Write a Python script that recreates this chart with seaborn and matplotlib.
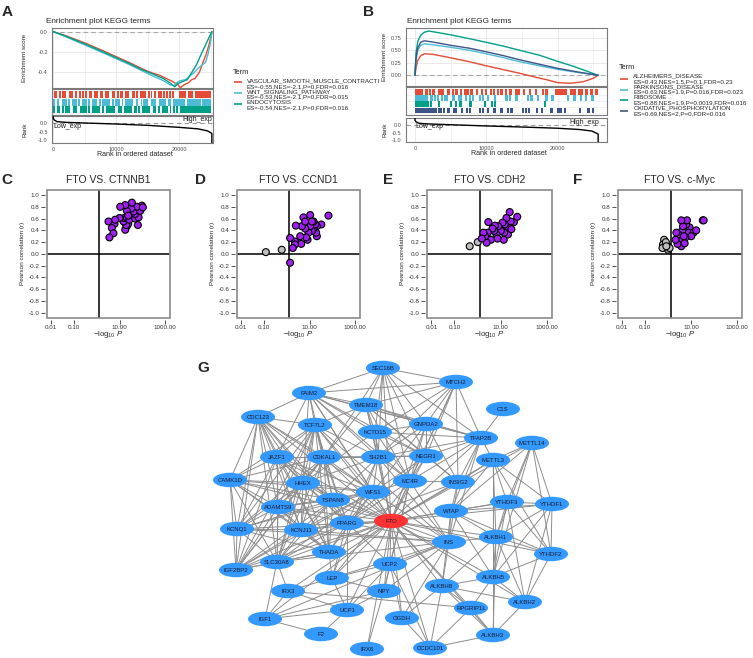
import numpy as np
import pandas as pd
import matplotlib
matplotlib.use('Agg')
import matplotlib.pyplot as plt
import seaborn as sns
from matplotlib.patches import Ellipse, Rectangle
from matplotlib.collections import LineCollection

sns.set_theme(style='white')
plt.rcParams['font.family'] = ['Liberation Sans', 'DejaVu Sans']
plt.rcParams['axes.unicode_minus'] = False
plt.rcParams['mathtext.fontset'] = 'custom'
plt.rcParams['mathtext.rm'] = 'Liberation Sans'
plt.rcParams['mathtext.it'] = 'Liberation Sans:italic'

# ------------------------------------------------------------------ data
NPG = ['#E64B35', '#4DBBD5', '#00A087', '#3C5488']

# Panel A (GSEA, negatively enriched)
A_TERMS = ['VASCULAR_SMOOTH_MUSCLE_CONTRACTION', 'WNT_SIGNALING_PATHWAY', 'ENDOCYTOSIS']
A_STATS = ['ES=-0.55,NES=-2.1,P=0,FDR=0.016', 'ES=-0.53,NES=-2.1,P=0,FDR=0.015',
           'ES=-0.54,NES=-2.1,P=0,FDR=0.016']
A_RED_X = [0, 2000, 5000, 8000, 10000, 12000, 14000, 15500, 17000, 18000, 19000, 19800, 20200,
           20800, 21500, 22000, 22500, 23200, 23800, 24300, 24700, 25000, 25200]
A_RED_Y = [0, -0.04, -0.11, -0.19, -0.245, -0.30, -0.36, -0.40, -0.43, -0.46, -0.49, -0.52, -0.55,
           -0.52, -0.50, -0.47, -0.46, -0.40, -0.30, -0.22, -0.14, -0.06, 0.0]
A_BLUE_X = [0, 2000, 5000, 8000, 10000, 12000, 14000, 16000, 17500, 18500, 19200, 19600, 20200,
            21000, 21800, 22400, 23000, 23600, 24200, 24600, 25000, 25200]
A_BLUE_Y = [0, -0.05, -0.13, -0.21, -0.265, -0.32, -0.38, -0.44, -0.48, -0.52, -0.53, -0.50, -0.48,
            -0.47, -0.43, -0.40, -0.36, -0.33, -0.30, -0.22, -0.10, 0.0]
A_GREEN_X = [0, 2000, 5000, 8000, 10000, 12000, 14000, 16000, 17500, 18500, 19300, 19800, 20500,
             21300, 22000, 22800, 23500, 24200, 24800, 25200]
A_GREEN_Y = [0, -0.045, -0.12, -0.20, -0.255, -0.31, -0.37, -0.42, -0.46, -0.50, -0.54, -0.51, -0.49,
             -0.47, -0.40, -0.32, -0.22, -0.13, -0.05, 0.0]
A_HITS_RED = [(160, 530), (900, 1100), (1400, 1600), (1750, 1950), (2550, 2750), (2900, 3170),
              (3500, 3700), (4130, 4330), (4550, 4750), (5090, 5290), (5710, 6080), (6510, 6710),
              (6880, 7080), (7400, 7940), (8260, 8460), (8630, 8830), (9260, 9790), (10220, 10420),
              (10580, 11110), (11430, 11630), (11800, 12000), (12430, 12960), (13230, 13430),
              (13760, 14810), (15140, 15340), (15510, 15710), (16040, 16240), (16670, 17200),
              (17470, 17670), (18000, 18200), (18420, 18620), (18950, 19150), (19950, 21160),
              (21430, 22220), (22490, 25130)]
A_HITS_BLUE = [(0, 265), (700, 900), (1320, 2120), (2440, 2640), (2910, 3700), (4030, 4230),
               (4500, 5290), (5610, 5810), (6080, 6880), (7310, 7510), (7670, 8990), (9320, 9520),
               (9790, 10580), (10900, 11100), (11380, 12700), (13120, 13490), (13920, 14120),
               (14290, 15080), (15450, 16400), (16830, 17990), (18250, 18780), (19050, 21000),
               (21200, 23500), (23700, 25130)]
A_HITS_GREEN = [(0, 265), (530, 1060), (1380, 1580), (1850, 2650), (3170, 3700), (4230, 5290),
                (5610, 5810), (6080, 7410), (7840, 8040), (8360, 9790), (10320, 10850), (11220, 12430),
                (12800, 13230), (13550, 13750), (14020, 15340), (15770, 16400), (16730, 16930),
                (17200, 18250), (18520, 18720), (19050, 19310), (19580, 19780), (20110, 25130)]
A_RANK_X = [0, 0, 150, 600, 2000, 5000, 10000, 15000, 20000, 23000, 24500, 25100, 25200, 25200]
A_RANK_Y = [0.44, 0.30, 0.20, 0.10, 0.06, 0.02, -0.04, -0.12, -0.24, -0.33, -0.45, -0.58, -0.62, -1.2]

# Panel B (GSEA, positively enriched)
B_TERMS = ['ALZHEIMERS_DISEASE', 'PARKINSONS_DISEASE', 'RIBOSOME', 'OXIDATIVE_PHOSPHORYLATION']
B_STATS = ['ES=0.43,NES=1.5,P=0.1,FDR=0.23', 'ES=0.63,NES=1.9,P=0.016,FDR=0.023',
           'ES=0.88,NES=1.9,P=0.0019,FDR=0.016', 'ES=0.69,NES=2,P=0,FDR=0.016']
B_RED_X = [0, 150, 400, 800, 1300, 2500, 5000, 7700, 10000, 12500, 14700, 17000, 18500, 20000,
           21700, 23600, 25000, 25700]
B_RED_Y = [0, 0.15, 0.30, 0.39, 0.43, 0.42, 0.35, 0.27, 0.19, 0.11, 0.04, -0.04, -0.09, -0.145,
           -0.16, -0.13, -0.06, 0.0]
B_BLUE_X = [0, 150, 400, 800, 1300, 2500, 5000, 7700, 10000, 12500, 14700, 17500, 20000, 22700, 25700]
B_BLUE_Y = [0, 0.30, 0.50, 0.60, 0.63, 0.61, 0.56, 0.50, 0.43, 0.35, 0.27, 0.19, 0.12, 0.06, 0.0]
B_GREEN_X = [0, 150, 400, 800, 1300, 1900, 3000, 5000, 7700, 10000, 12500, 14700, 17500, 20000,
             22000, 23600, 25700]
B_GREEN_Y = [0, 0.45, 0.68, 0.80, 0.86, 0.885, 0.86, 0.81, 0.73, 0.66, 0.58, 0.50, 0.40, 0.28,
             0.19, 0.11, 0.0]
B_NAVY_X = [0, 150, 400, 800, 1300, 2500, 5000, 7700, 10000, 12500, 14700, 17500, 20000, 22700, 25700]
B_NAVY_Y = [0, 0.35, 0.55, 0.66, 0.69, 0.665, 0.60, 0.54, 0.47, 0.39, 0.31, 0.22, 0.14, 0.07, 0.0]
B_HITS_RED = [(0, 1170), (1400, 1870), (2000, 2200), (2340, 2800), (3270, 3740), (3870, 4070),
              (4440, 4910), (5180, 5380), (5610, 6070), (6310, 6540), (6910, 7110), (7280, 7480),
              (7710, 8180), (8550, 8880), (9250, 9450), (9810, 10050), (10510, 10710), (10980, 11210),
              (11580, 11780), (12050, 12250), (12620, 12850), (13220, 13550), (14150, 14350),
              (14530, 14730), (15190, 15420), (16020, 16220), (16820, 17060), (17890, 18090),
              (18360, 18560), (19630, 21260), (21730, 22660), (22900, 23600), (23970, 24170),
              (24530, 24910), (25230, 25610)]
B_HITS_BLUE = [(0, 1870), (2100, 2570), (2700, 2900), (3170, 3370), (3640, 3840), (4110, 4310),
               (4430, 4630), (5140, 5610), (6070, 6540), (7010, 7240), (7610, 7810), (8080, 8280),
               (9010, 9210), (9480, 9680), (10180, 10380), (11110, 11310), (12750, 12950),
               (13220, 13420), (14150, 14350), (15790, 15990), (16120, 16590), (17190, 17390),
               (18360, 18560), (19200, 19400), (21400, 21600), (22200, 22660), (23170, 23370),
               (23830, 24070), (24810, 25010)]
B_HITS_GREEN = [(0, 1640), (1770, 1970), (2140, 2340), (3270, 3500), (4910, 5140), (5600, 5800),
                (6210, 6540), (7620, 7940), (9710, 9910), (10650, 10850), (11110, 11310), (18120, 18320)]
B_HITS_NAVY = [(0, 3040), (3270, 3740), (3970, 4170), (4440, 4910), (5370, 5930), (6400, 6780),
               (7140, 7340), (7610, 7810), (9010, 9210), (9480, 9680), (10180, 10380), (10980, 11360),
               (12050, 12250), (12850, 13220), (13450, 13650), (15090, 15290), (15420, 15650),
               (15930, 16130), (16960, 17290), (17760, 17990), (19060, 19260), (19860, 20560),
               (20930, 21130), (23040, 23220), (24070, 24530), (24900, 25100)]
B_RANK_X = [0, 0, 150, 600, 2000, 5000, 10000, 15000, 20000, 23000, 24800, 25500, 25700, 25700]
B_RANK_Y = [0.43, 0.30, 0.20, 0.10, 0.06, 0.01, -0.07, -0.14, -0.22, -0.30, -0.40, -0.55, -0.60, -1.15]

# Panels C-F (-log10 P vs Pearson r)
C_X = [3.27, 3.6, 5.4, 4.6, 6.4, 6.0, 10, 10.7, 17.8, 34.9, 21, 32.7, 58, 96, 106, 81, 49, 69, 49,
       27.4, 21, 16, 15, 19.6, 24, 17.8, 21, 64, 35, 42, 24]
C_Y = [0.55, 0.28, 0.35, 0.44, 0.58, 0.51, 0.61, 0.80, 0.83, 0.87, 0.73, 0.77, 0.80, 0.82, 0.79,
       0.73, 0.68, 0.62, 0.60, 0.58, 0.61, 0.61, 0.55, 0.49, 0.51, 0.41, 0.47, 0.49, 0.61, 0.72, 0.65]
D_X = [0.12, 0.6, 1.4, 1.4, 1.84, 2.3, 2.5, 2.3, 4.3, 3.9, 4.6, 5.4, 6.4, 7.1, 9.0, 10.7, 10.7, 12.7,
       15, 17.7, 15, 19.5, 21, 21, 33, 68, 8.2, 12.7, 6.4]
D_Y = [0.03, 0.07, -0.15, 0.27, 0.10, 0.16, 0.48, 0.21, 0.17, 0.30, 0.47, 0.62, 0.43, 0.28, 0.36,
       0.66, 0.47, 0.39, 0.55, 0.50, 0.43, 0.36, 0.30, 0.47, 0.50, 0.65, 0.24, 0.55, 0.55]
E_X = [0.46, 1.03, 1.53, 1.81, 2.14, 2.5, 2.8, 2.95, 3.85, 4.5, 5.3, 5.7, 7.4, 7.9, 6.7, 10.3, 12.2,
       15.3, 14.4, 13.8, 18, 21, 21, 25, 27.7, 23.5, 38, 53, 29.5]
E_Y = [0.13, 0.20, 0.26, 0.36, 0.30, 0.19, 0.36, 0.54, 0.24, 0.43, 0.39, 0.48, 0.26, 0.47, 0.33,
       0.39, 0.53, 0.50, 0.36, 0.24, 0.61, 0.45, 0.33, 0.71, 0.55, 0.50, 0.54, 0.63, 0.42]
F_X = [0.67, 0.60, 0.71, 1.0, 0.97, 1.17, 0.57, 0.8, 0.84, 2.14, 2.3, 2.6, 2.85, 3.8, 4.5, 4.1, 3.8,
       3.4, 4.5, 4.9, 5.8, 6.7, 7.4, 8.7, 6.2, 8.1, 10.3, 13, 17, 33, 36, 5.3]
F_Y = [0.24, 0.16, 0.11, 0.07, 0.13, 0.10, 0.10, 0.20, 0.13, 0.24, 0.36, 0.17, 0.33, 0.57, 0.47,
       0.39, 0.13, 0.24, 0.20, 0.30, 0.28, 0.57, 0.39, 0.45, 0.50, 0.36, 0.30, 0.36, 0.40, 0.57, 0.57, 0.18]
SIG_CUT = 1.3  # -log10(0.05)

# Panel G network (layout coordinates and interactions)
NODE_POS = {
    'SEC16B': (383, 368), 'MTCH2': (456, 382), 'FAIM2': (309, 393), 'TMEM18': (366, 405),
    'CDC123': (258, 417), 'TCF7L2': (315, 425), 'GNPDA2': (426, 424), 'KCTD15': (375, 432),
    'TFAP2B': (481, 438), 'C1S': (503, 409), 'JAZF1': (277, 457), 'CDKAL1': (324, 457),
    'SH2B1': (378, 457), 'NEGR1': (426, 456), 'METTL14': (532, 443), 'CAMK1D': (230, 480),
    'HHEX': (303, 483), 'MC4R': (410, 481), 'INSIG2': (458, 482), 'WFS1': (373, 492),
    'METTL3': (493, 460), 'TSPAN8': (333, 500), 'ADAMTS9': (278, 507), 'YTHDF3': (507, 502),
    'YTHDF1': (552, 504), 'WTAP': (451, 511), 'FTO': (391, 521), 'PPARG': (347, 523),
    'KCNQ1': (237, 529), 'KCNJ11': (301, 530), 'ALKBH1': (496, 537), 'INS': (449, 542),
    'THADA': (329, 552), 'SLC30A8': (277, 562), 'UCP2': (390, 564), 'IGF2BP2': (236, 570),
    'YTHDF2': (551, 554), 'ALKBH5': (493, 577), 'LEP': (332, 578), 'ALKBH8': (442, 586),
    'IRX3': (288, 591), 'NPY': (384, 591), 'ALKBH2': (525, 602), 'RPGRIP1L': (471, 608),
    'UCP1': (347, 610), 'IGF1': (265, 619), 'OGDH': (402, 618), 'F2': (321, 634),
    'ALKBH3': (493, 635), 'IRX6': (367, 649), 'CCDC101': (430, 648),
}
EDGES_TXT = """
FTO: MC4R TMEM18 SH2B1 NEGR1 KCTD15 GNPDA2 SEC16B MTCH2 FAIM2 TFAP2B INSIG2 TCF7L2 CDKAL1 HHEX JAZF1 WFS1 TSPAN8 PPARG KCNJ11 KCNQ1 THADA SLC30A8 IGF2BP2 ADAMTS9 CDC123 CAMK1D UCP1 UCP2 LEP NPY INS IRX3 IRX6 IGF1 OGDH RPGRIP1L CCDC101 METTL3 METTL14 WTAP YTHDF1 YTHDF2 YTHDF3 ALKBH1 ALKBH5 ALKBH8 ALKBH2 ALKBH3
SEC16B: FAIM2 MTCH2 TMEM18 KCTD15 SH2B1 GNPDA2 NEGR1 MC4R TFAP2B CDKAL1
MTCH2: FAIM2 TMEM18 GNPDA2 TFAP2B NEGR1 KCTD15 SH2B1 INSIG2 MC4R
FAIM2: TMEM18 TCF7L2 CDKAL1 KCTD15 SH2B1 GNPDA2 NEGR1 JAZF1 HHEX WFS1 MC4R TFAP2B CDC123
TMEM18: GNPDA2 TFAP2B KCTD15 SH2B1 NEGR1 MC4R CDKAL1 TCF7L2 INSIG2
GNPDA2: TFAP2B NEGR1 MC4R KCTD15 SH2B1 INSIG2 WFS1
KCTD15: SH2B1 NEGR1 MC4R TFAP2B HHEX
TFAP2B: C1S NEGR1 SH2B1 MC4R INSIG2 WTAP METTL3 INS
SH2B1: NEGR1 MC4R CDKAL1 HHEX TCF7L2 JAZF1 WFS1 TSPAN8 PPARG INS LEP
NEGR1: MC4R INSIG2 WFS1 CDKAL1 PPARG
MC4R: WFS1 INSIG2 PPARG LEP NPY UCP2 INS
INSIG2: WTAP METTL3 INS PPARG
CDC123: TCF7L2 JAZF1 CDKAL1 HHEX CAMK1D ADAMTS9 TSPAN8 KCNQ1 KCNJ11 THADA SLC30A8 IGF2BP2 WFS1 PPARG
TCF7L2: JAZF1 CDKAL1 HHEX CAMK1D TSPAN8 ADAMTS9 KCNQ1 KCNJ11 THADA SLC30A8 IGF2BP2 WFS1 PPARG INS
JAZF1: CDKAL1 HHEX CAMK1D TSPAN8 ADAMTS9 KCNQ1 KCNJ11 THADA SLC30A8 IGF2BP2 WFS1 PPARG
CDKAL1: HHEX CAMK1D TSPAN8 ADAMTS9 KCNQ1 KCNJ11 THADA SLC30A8 IGF2BP2 WFS1 PPARG
CAMK1D: HHEX TSPAN8 ADAMTS9 KCNQ1 KCNJ11 THADA SLC30A8 IGF2BP2 WFS1
HHEX: TSPAN8 ADAMTS9 KCNQ1 KCNJ11 THADA SLC30A8 IGF2BP2 WFS1 PPARG
WFS1: TSPAN8 ADAMTS9 KCNQ1 KCNJ11 THADA SLC30A8 IGF2BP2 PPARG INS
TSPAN8: ADAMTS9 KCNQ1 KCNJ11 THADA SLC30A8 IGF2BP2 PPARG
ADAMTS9: KCNQ1 KCNJ11 THADA SLC30A8 IGF2BP2 PPARG
KCNQ1: KCNJ11 THADA SLC30A8 IGF2BP2 INS
KCNJ11: THADA SLC30A8 IGF2BP2 PPARG INS
PPARG: THADA SLC30A8 IGF2BP2 UCP1 UCP2 LEP INS
THADA: SLC30A8 IGF2BP2 LEP
SLC30A8: IGF2BP2 IGF1 INS IRX3
LEP: NPY UCP1 UCP2 INS IRX3
NPY: UCP1 UCP2 INS IRX6 IGF1
UCP1: UCP2 IRX3 F2 IGF1
UCP2: INS OGDH CCDC101
INS: IGF1 OGDH ALKBH8 WTAP ALKBH1
IGF1: F2 IRX3
OGDH: ALKBH8 CCDC101
CCDC101: RPGRIP1L ALKBH3 ALKBH8
RPGRIP1L: ALKBH8 ALKBH3 ALKBH5 IRX3
METTL3: METTL14 WTAP YTHDF1 YTHDF2 YTHDF3 ALKBH1 ALKBH5 ALKBH3
METTL14: WTAP YTHDF1 YTHDF2 YTHDF3 ALKBH1 ALKBH5
WTAP: YTHDF1 YTHDF2 YTHDF3 ALKBH1 ALKBH5 ALKBH8
YTHDF3: YTHDF1 YTHDF2 ALKBH1 ALKBH5 ALKBH2
YTHDF1: YTHDF2 ALKBH1 ALKBH5 ALKBH2
YTHDF2: ALKBH1 ALKBH5 ALKBH2
ALKBH1: ALKBH5 ALKBH2 ALKBH3 ALKBH8
ALKBH5: ALKBH2 ALKBH8 ALKBH3
ALKBH8: ALKBH2 ALKBH3
ALKBH2: ALKBH3
"""
HUB = 'FTO'

# ------------------------------------------------------------------ figure helpers
W, H = 753, 658
fig = plt.figure(figsize=(W / 100, H / 100), dpi=100)


def pax(x0, y0, x1, y1):
    return fig.add_axes([x0 / W, 1 - y1 / H, (x1 - x0) / W, (y1 - y0) / H])


def ftext(x, y, s, **kw):
    return fig.text(x / W, 1 - y / H, s, **kw)


GRID_MAJ = '#E6E6E6'
BORDER = '#7a7a7a'
TICKC = '#4d4d4d'
HIT_MIN_W = 300  # minimal drawn width of a hit stripe (rank units)


def style_gsea_ax(ax, xlim):
    ax.set_xlim(*xlim)
    for s in ax.spines.values():
        s.set_color(BORDER)
        s.set_linewidth(0.8)
    ax.set_facecolor('white')
    ax.set_xlabel('')
    ax.set_ylabel('')
    ax.tick_params(axis='both', length=2, width=0.5, color=TICKC, labelsize=4,
                   labelcolor=TICKC, pad=1)
    for xv in [0, 5000, 10000, 15000, 20000, 25000]:
        ax.axvline(xv, color=GRID_MAJ if xv % 10000 == 0 else '#F0F0F0', lw=0.6, zorder=0)


def gsea_panel(boxes, xlim, es_ylim, es_ticks, es_labels, curves, terms, hits, rank_xy,
               title_xy, ylab_x, xlab_xy, lowtxt, hightxt):
    es_box, hit_box, rank_box = boxes
    ax = pax(*es_box)
    frames = [pd.DataFrame({'rank': cx, 'es': cy, 'term': t}) for (cx, cy), t in zip(curves, terms)]
    df = pd.concat(frames, ignore_index=True)
    pal = dict(zip(terms, NPG[:len(terms)]))
    ax.axhline(0, color='#a6a6a6', lw=0.8, ls=(0, (4, 3)), zorder=1)
    sns.lineplot(data=df, x='rank', y='es', hue='term', hue_order=terms, palette=pal,
                 estimator=None, sort=False, legend=False, lw=1.0, ax=ax, zorder=3)
    style_gsea_ax(ax, xlim)
    ax.set_ylim(*es_ylim)
    ax.set_yticks(es_ticks)
    ax.set_yticklabels(es_labels)
    for yv in es_ticks:
        ax.axhline(yv, color=GRID_MAJ, lw=0.6, zorder=0)
    ax.set_xticks([0, 10000, 20000])
    ax.tick_params(axis='x', length=0, labelbottom=False)
    ftext(title_xy[0], title_xy[1], 'Enrichment plot KEGG terms', fontsize=5.9, ha='left', va='center')
    ftext(ylab_x, (es_box[1] + es_box[3]) / 2, 'Enrichment score', fontsize=4.5, rotation=90,
          ha='center', va='center')

    # hits
    hx = pax(*hit_box)
    n = len(terms)
    for i, (iv, col) in enumerate(zip(hits, NPG)):
        bars = []
        for s, e in iv:
            w = e - s
            if w < HIT_MIN_W:
                c = (s + e) / 2
                s, w = c - HIT_MIN_W / 2, HIT_MIN_W
            bars.append((s, w))
        hx.broken_barh(bars, (i + 0.04, 0.92), facecolors=col, edgecolor='none', zorder=2)
        hx.axhline(i, color='#EDEDED', lw=0.5, zorder=0)
    hx.axhline(n, color='#EDEDED', lw=0.5, zorder=0)
    style_gsea_ax(hx, xlim)
    hx.set_ylim(n + 0.25, -0.25)
    hx.set_xticks([])
    hx.set_yticks([])

    # rank metric
    rx = pax(*rank_box)
    rx.axhline(0, color='#9a9a9a', lw=0.8, ls=(0, (4, 3)), zorder=1)
    sns.lineplot(x=rank_xy[0], y=rank_xy[1], estimator=None, sort=False, color='black', lw=1.0,
                 ax=rx, zorder=3)
    style_gsea_ax(rx, xlim)
    rx.set_ylim(rank_xy[2])
    rx.set_yticks([0.0, -0.5, -1.0])
    rx.set_yticklabels(['0.0', '-0.5', '-1.0'])
    rx.set_xticks([0, 10000, 20000])
    rx.set_xticklabels(['0', '10000', '20000'])
    rx.text(lowtxt[0], lowtxt[1], 'Low_exp', fontsize=5, ha='left', va='center', color='#1a1a1a')
    rx.text(hightxt[0], hightxt[1], 'High_exp', fontsize=5, ha='right', va='center', color='#1a1a1a')
    ftext(ylab_x, (rank_box[1] + rank_box[3]) / 2, 'Rank', fontsize=4.5, rotation=90,
          ha='center', va='center')
    ftext(xlab_xy[0], xlab_xy[1], 'Rank in ordered dataset', fontsize=5.1, ha='center', va='center')


def legend_block(region, title_xy, x_key, x_text, name_y0, step, key_off, terms, stats):
    lx = pax(*region)
    lx.set_xlim(region[0], region[2])
    lx.set_ylim(region[3], region[1])
    lx.axis('off')
    lx.text(title_xy[0], title_xy[1], 'Term', fontsize=5.3, ha='left', va='center', clip_on=True)
    for i, (t, s) in enumerate(zip(terms, stats)):
        yn = name_y0 + i * step
        lx.plot([x_key, x_key + 8], [yn + key_off, yn + key_off], color=NPG[i], lw=1.2,
                solid_capstyle='butt')
        lx.text(x_text, yn, t, fontsize=4.5, ha='left', va='center', clip_on=True)
        lx.text(x_text, yn + 5.6, s, fontsize=4.5, ha='left', va='center', clip_on=True)


# ------------------------------------------------------------------ A
gsea_panel(boxes=[(52, 28.3, 213.3, 88.3), (52, 89.3, 213.3, 115), (52, 116, 213.3, 142.7)],
           xlim=(-210, 25430), es_ylim=(-0.555, 0.033), es_ticks=[0.0, -0.2, -0.4],
           es_labels=['0.0', '-0.2', '-0.4'],
           curves=[(A_RED_X, A_RED_Y), (A_BLUE_X, A_BLUE_Y), (A_GREEN_X, A_GREEN_Y)],
           terms=A_TERMS, hits=[A_HITS_RED, A_HITS_BLUE, A_HITS_GREEN],
           rank_xy=(A_RANK_X, A_RANK_Y, (-1.16, 0.44)),
           title_xy=(45.7, 21.5), ylab_x=25, xlab_xy=(135, 154),
           lowtxt=(0, -0.17), hightxt=(25200, 0.24))
legend_block((228, 62, 379, 115), (233, 72), 233.5, 246.7, 80.7, 10.9, 1.0, A_TERMS, A_STATS)

# ------------------------------------------------------------------ B
gsea_panel(boxes=[(405.7, 28.3, 606.7, 86), (405.7, 87.3, 606.7, 115), (405.7, 118.3, 606.7, 141.7)],
           xlim=(-1300, 26900), es_ylim=(-0.214, 0.94), es_ticks=[0.75, 0.5, 0.25, 0.0],
           es_labels=['0.75', '0.50', '0.25', '0.00'],
           curves=[(B_RED_X, B_RED_Y), (B_BLUE_X, B_BLUE_Y), (B_GREEN_X, B_GREEN_Y), (B_NAVY_X, B_NAVY_Y)],
           terms=B_TERMS, hits=[B_HITS_RED, B_HITS_BLUE, B_HITS_GREEN, B_HITS_NAVY],
           rank_xy=(B_RANK_X, B_RANK_Y, (-1.1, 0.43)),
           title_xy=(406.7, 21.5), ylab_x=385, xlab_xy=(509, 153.5),
           lowtxt=(100, -0.12), hightxt=(25800, 0.14))
legend_block((614, 58, 753, 120), (619.3, 67.7), 620, 633.3, 76, 10.6, 3.0, B_TERMS, B_STATS)

# ------------------------------------------------------------------ C-F scatter
XLIM = (10 ** -2.19, 10 ** 3.22)


def fmt_r(v):
    v = 0.0 if abs(v) < 1e-9 else v
    return f'{v:.1f}'


def scatter_panel(box, title, letter, letter_x, xs, ys):
    ax = pax(*box)
    df = pd.DataFrame({'x': xs, 'y': ys})
    df['sig'] = np.where(df['x'] >= SIG_CUT, 'sig', 'ns')
    df = df.sort_values('sig')
    ax.axvline(SIG_CUT, color='black', lw=1.1, zorder=1)
    ax.axhline(0, color='black', lw=1.1, zorder=1)
    sns.scatterplot(data=df, x='x', y='y', hue='sig', palette={'sig': '#A020F0', 'ns': '#BEBEBE'},
                    s=25, edgecolor='black', linewidth=0.8, legend=False, ax=ax, zorder=3)
    ax.set_xscale('log')
    ax.set_xlim(*XLIM)
    ax.set_ylim(-1.08, 1.085)
    ax.set_xticks([0.01, 0.1, 10, 1000])
    ax.set_xticklabels(['0.01', '0.10', '10.00', '1000.00'])
    ax.xaxis.set_minor_locator(matplotlib.ticker.NullLocator())
    yt = np.round(np.arange(-1.0, 1.01, 0.2), 1)
    ax.set_yticks(yt)
    ax.set_yticklabels([fmt_r(v) for v in yt])
    for side in ['top', 'right']:
        ax.spines[side].set_visible(False)
    for side in ['left', 'bottom']:
        ax.spines[side].set_position(('outward', 1.6))
        ax.spines[side].set_color('none')
    ax.add_patch(Rectangle((0, 0), 1, 1, transform=ax.transAxes, fill=False, ec='#8a8a8a',
                           lw=1.2, clip_on=False, zorder=5))
    ax.tick_params(axis='both', direction='out', length=2.6, width=0.6, color='#333333',
                   labelsize=4.5, labelcolor='#333333', pad=1.2, left=True, bottom=True)
    ax.set_xlabel('')
    ax.set_ylabel('')
    cx = (box[0] + box[2]) / 2
    ftext(cx, 180, title, fontsize=7.5, ha='center', va='center')
    ftext(letter_x, 180.5, letter, fontsize=11, fontweight='bold', ha='left', va='center')
    ftext(box[0] - 24.3, (box[1] + box[3]) / 2, 'Pearson correlation (r)', fontsize=4.6,
          rotation=90, ha='center', va='center')
    ftext(cx, 334, r'$-\log_{10}\,P$', fontsize=5.6, ha='center', va='center')


scatter_panel((47, 190, 170, 317.5), 'FTO VS. CTNNB1', 'C', 1.5, C_X, C_Y)
scatter_panel((237, 190, 360, 317.5), 'FTO VS. CCND1', 'D', 194.5, D_X, D_Y)
scatter_panel((427, 190, 551.7, 317.5), 'FTO VS. CDH2', 'E', 382.5, E_X, E_Y)
scatter_panel((618, 190, 741.7, 317.5), 'FTO VS. c-Myc', 'F', 573, F_X, F_Y)

# ------------------------------------------------------------------ A/B letters
ftext(1.5, 12, 'A', fontsize=11, fontweight='bold', ha='left', va='center')
ftext(363, 12, 'B', fontsize=11, fontweight='bold', ha='left', va='center')

# ------------------------------------------------------------------ G network
gx = pax(195, 350, 600, 658)
gx.set_xlim(195, 600)
gx.set_ylim(658, 350)
gx.axis('off')
edges = []
for line in EDGES_TXT.strip().splitlines():
    src, dst = line.split(':')
    for d in dst.split():
        edges.append((src.strip(), d))
segs = [[NODE_POS[a], NODE_POS[b]] for a, b in edges]
gx.add_collection(LineCollection(segs, colors='#8c8c8c', linewidths=0.7, zorder=1))
for name, (x, y) in NODE_POS.items():
    col = '#FF3333' if name == HUB else '#3399FF'
    gx.add_patch(Ellipse((x, y), 34, 14.5, facecolor=col, edgecolor='none', zorder=2))
    gx.text(x, y + 0.3, name, fontsize=4.3, ha='center', va='center', color='#1a1a2a', zorder=3)
ftext(197, 368.5, 'G', fontsize=11, fontweight='bold', ha='left', va='center')

fig.savefig('out.png', dpi=100)
